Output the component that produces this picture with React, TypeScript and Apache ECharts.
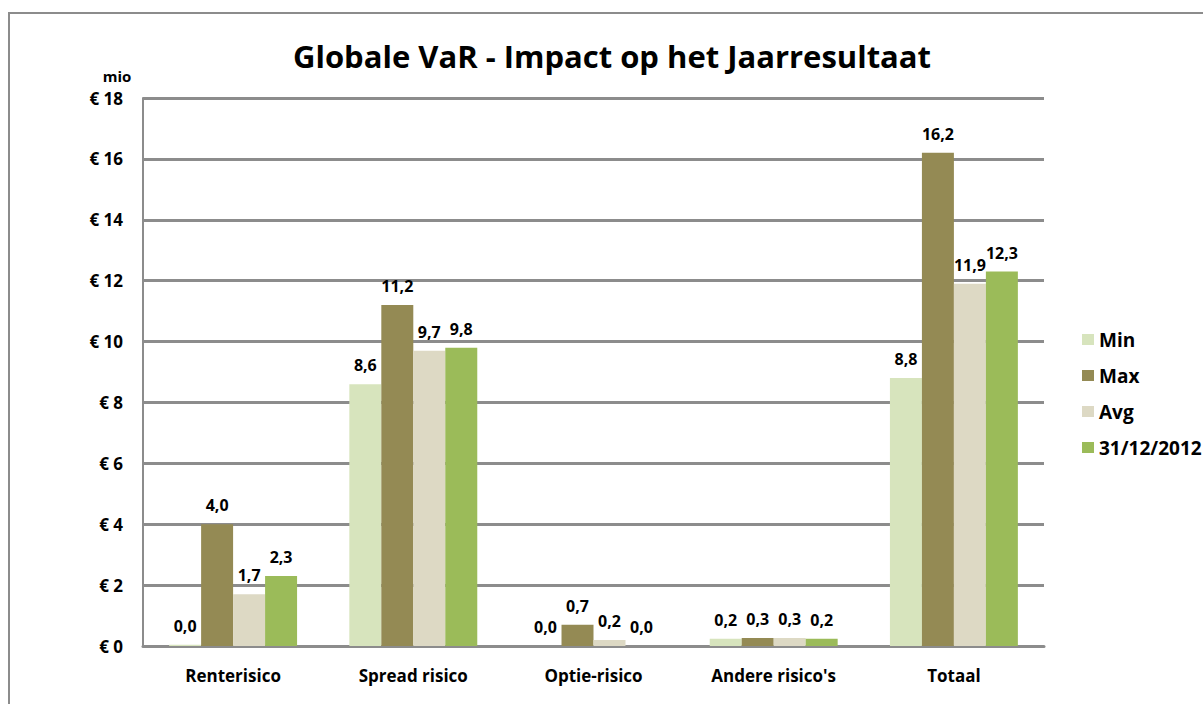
import React, { useEffect, useRef } from "react";
import * as echarts from "echarts";

const categories = ["Renterisico", "Spread risico", "Optie-risico", "Andere risico's", "Totaal"];
const seriesNames = ["Min", "Max", "Avg", "31/12/2012"];
const minValues = [0.04, 8.6, 0.0, 0.24, 8.8];
const maxValues = [4.0, 11.2, 0.7, 0.26, 16.2];
const avgValues = [1.7, 9.7, 0.2, 0.26, 11.9];
const dateValues = [2.3, 9.8, 0.0, 0.24, 12.3];
const colors = ["#d7e4bd", "#948a54", "#ddd9c4", "#9bbb59"];
const yTicks = { min: 0, max: 18, interval: 2 };

const FONT = "'Open Sans', 'Noto Sans', sans-serif";

export default function App() {
  const ref = useRef<HTMLDivElement>(null);
  useEffect(() => {
    if (!ref.current) return;
    const chart = echarts.init(ref.current, null, { renderer: "svg" });
    const all = [minValues, maxValues, avgValues, dateValues];
    chart.setOption({
      animation: false,
      backgroundColor: "#ffffff",
      textStyle: { fontFamily: FONT },
      title: {
        text: "Globale VaR - Impact op het Jaarresultaat",
        left: 607,
        textAlign: "center",
        top: 35,
        textStyle: { fontFamily: FONT, fontSize: 31, fontWeight: "bold", color: "#000" },
      },
      graphic: [
        {
          type: "rect",
          shape: { x: 9, y: 13, width: 1300, height: 800 },
          style: { fill: "none", stroke: "#8c8c8c", lineWidth: 2 },
          silent: true,
        },
        {
          type: "text",
          x: 117,
          y: 76,
          style: {
            text: "mio",
            fontFamily: FONT,
            fontSize: 15,
            fontWeight: "bold",
            fill: "#000",
            textAlign: "center",
            textVerticalAlign: "middle",
          },
        },
      ],
      legend: {
        orient: "vertical",
        left: 1077,
        top: 325,
        itemWidth: 12,
        itemHeight: 11,
        itemGap: 17,
        icon: "rect",
        data: seriesNames,
        textStyle: { fontFamily: FONT, fontSize: 19, fontWeight: "bold", color: "#000" },
      },
      grid: { left: 143, top: 98, width: 901, height: 548, containLabel: false },
      xAxis: {
        type: "category",
        data: categories,
        axisLine: { show: true, lineStyle: { color: "#8c8c8c", width: 3 } },
        axisTick: { show: false },
        axisLabel: { fontFamily: FONT, fontSize: 17, fontWeight: "bold", color: "#000", margin: 21 },
      },
      yAxis: {
        type: "value",
        min: yTicks.min,
        max: yTicks.max,
        interval: yTicks.interval,
        axisLine: { show: true, lineStyle: { color: "#8c8c8c", width: 2 } },
        axisTick: { show: false },
        splitLine: { show: true, lineStyle: { color: "#8c8c8c", width: 3 } },
        axisLabel: {
          fontFamily: FONT,
          fontSize: 17,
          fontWeight: "bold",
          color: "#000",
          margin: 20,
          formatter: (v: number) => "€ " + v,
        },
      },
      series: seriesNames.map((name, i) => ({
        name,
        type: "bar",
        data: all[i],
        itemStyle: { color: colors[i] },
        barGap: "0%",
        barCategoryGap: "29%",
        label: {
          show: true,
          position: "top",
          distance: 11,
          fontFamily: FONT,
          fontSize: 16,
          fontWeight: "bold",
          color: "#000",
          formatter: (p: any) => Number(p.value).toFixed(1).replace(".", ","),
        },
      })),
    });
    return () => chart.dispose();
  }, []);
  return (
    <div
      ref={ref}
      style={{ position: "fixed", left: 0, top: 0, width: 1203, height: 704 }}
    />
  );
}
